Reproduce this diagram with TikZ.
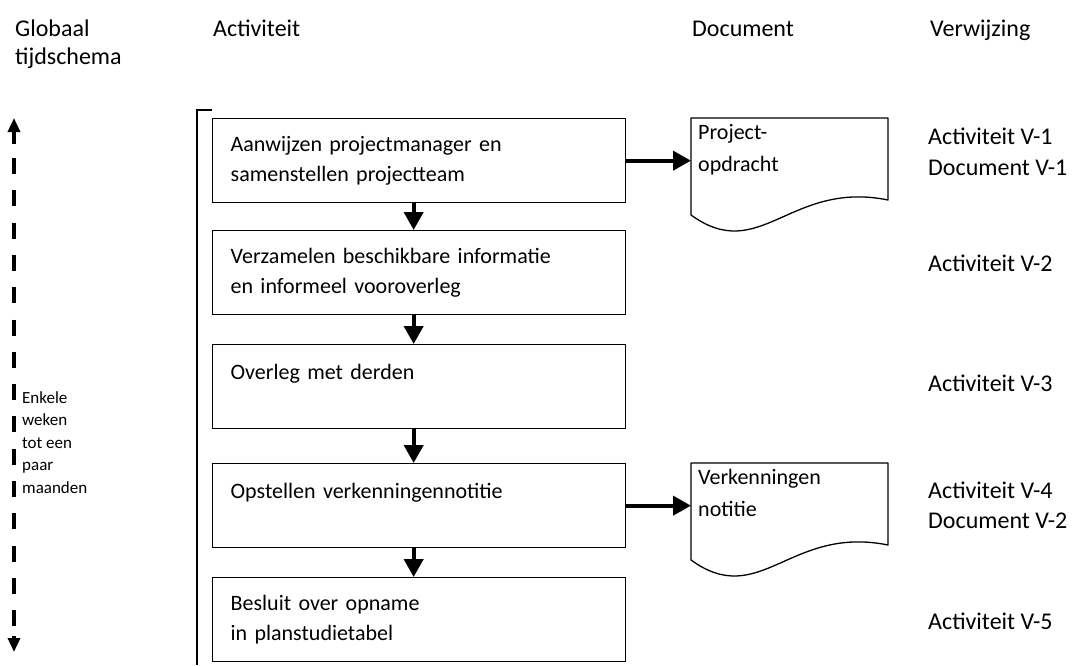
\documentclass[tikz,border=0pt]{standalone}
\usepackage{fontspec}
\setmainfont{Carlito}
\usetikzlibrary{arrows.meta}
\begin{document}
\begin{tikzpicture}[x=1pt,y=-1pt,
  every node/.style={font=\fontsize{22}{30}\selectfont},
  lbl/.style={anchor=west, inner sep=0pt, text height=16pt, text depth=4pt, font=\fontsize{24}{30}\selectfont},
  actbox/.style={draw, line width=1.3pt, anchor=north west, minimum width=413pt,
    minimum height=84pt, text width=377pt, inner xsep=18pt, align=left},
  doctext/.style={anchor=north west, inner xsep=7pt, inner ysep=6pt, align=left, font=\fontsize{22}{32}\selectfont},
  docline/.style={draw, line width=1.3pt, line join=round},
  flow/.style={line width=4pt, -{Triangle[length=18pt,width=19pt]}},
  timeline/.style={line width=3.3pt},
  timehead/.style={line width=3.3pt, -{Triangle[length=14pt,width=12pt]}}
]
\useasboundingbox (0,0) rectangle (1075,665);

% headers
\node[lbl] (hg1) at (15,30) {Globaal};
\node[lbl] (hg2) at (15,58) {tijdschema};
\node[lbl] (ha) at (213,30) {Activiteit};
\node[lbl] (hd) at (692,30) {Document};
\node[lbl] (hv) at (930,30) {Verwijzing};

% bracket
\coordinate (brt) at (212,110);
\coordinate (brc) at (197,110);
\coordinate (brb) at (197,665);
\draw[line width=1.3pt] (brt) -- (brc) -- (brb);

% time line
\coordinate (tt) at (14,118);
\coordinate (tts) at (14,144);
\coordinate (tds) at (14,158);
\coordinate (tde) at (14,626);
\coordinate (tbs) at (14,636);
\coordinate (tb) at (14,652);
\draw[timehead] (tts) -- (tt);
\draw[timeline, dash pattern=on 16pt off 16.3pt] (tds) -- (tde);
\draw[timehead] (tbs) -- (tb);
\node[anchor=north west, inner sep=0pt, align=left, font=\fontsize{17}{22.5}\selectfont] (dur) at (22,391)
  {Enkele\\weken\\tot een\\paar\\maanden};

% activity boxes
\node[actbox] (b1) at (212,118) {Aanwijzen projectmanager en\\samenstellen projectteam};
\node[actbox] (b2) at (212,230) {Verzamelen beschikbare informatie\\en informeel vooroverleg};
\node[actbox] (b3) at (212,344) {Overleg met derden\\\mbox{}};
\node[actbox] (b4) at (212,463) {Opstellen verkenningennotitie\\\mbox{}};
\node[actbox] (b5) at (212,577) {Besluit over opname\\in planstudietabel};

\draw[flow] ([xshift=-5.5pt]b1.south) -- ([xshift=-5.5pt]b2.north);
\draw[flow] ([xshift=-5.5pt]b2.south) -- ([xshift=-5.5pt]b3.north);
\draw[flow] ([xshift=-5.5pt]b3.south) -- ([xshift=-5.5pt]b4.north);
\draw[flow] ([xshift=-5.5pt]b4.south) -- ([xshift=-5.5pt]b5.north);

% documents
\node[doctext] (d1) at (691,118) {Project-\\opdracht};
\node[doctext] (d2) at (691,463) {Verkenningen\\notitie};
\draw[docline, shift={(d1.north west)}] (0,0) -- (0,97) .. controls (69,147) and (99,62) .. (197,82) -- (197,0) -- cycle;
\draw[docline, shift={(d2.north west)}] (0,0) -- (0,97) .. controls (69,147) and (99,62) .. (197,82) -- (197,0) -- cycle;

\draw[flow] (b1.east) -- (b1.east -| d1.west);
\draw[flow] (b4.east) -- (b4.east -| d2.west);

% references
\node[lbl] (r1a) at (928,138) {Activiteit V-1};
\node[lbl] (r1b) at (928,169) {Document V-1};
\node[lbl] (r2) at (928,265) {Activiteit V-2};
\node[lbl] (r3) at (928,385) {Activiteit V-3};
\node[lbl] (r4a) at (928,492) {Activiteit V-4};
\node[lbl] (r4b) at (928,522) {Document V-2};
\node[lbl] (r5) at (928,623) {Activiteit V-5};
\end{tikzpicture}
\end{document}
